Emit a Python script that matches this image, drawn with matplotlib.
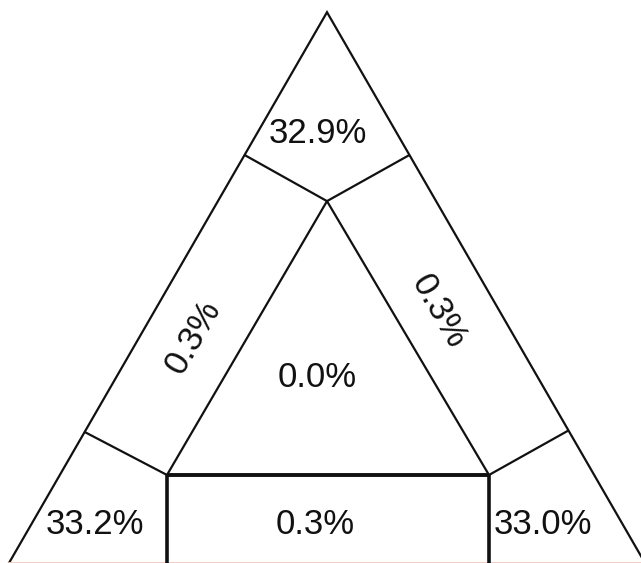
import numpy as np
import matplotlib
matplotlib.use("Agg")
import matplotlib.pyplot as plt

# Region shares (percent)
corner_labels = ["32.9%", "33.2%", "33.0%"]      # top, bottom-left, bottom-right
edge_labels = ["0.3%", "0.3%", "0.3%"]           # left, right, bottom
center_label = "0.0%"

# Region boundary points in unit-triangle coordinates (base 0..1)
outer_u = [0.0, 0.5, 1.0]
outer_v = [0.0, np.sqrt(3) / 2, 0.0]
junction = (0.5, 0.569)
top_left_edge = (0.3704, 0.6415)
top_right_edge = (0.6296, 0.6415)
inner_bl = (0.2484, 0.1384)
inner_br = (0.7547, 0.1384)
low_left_edge = (0.119, 0.206)
low_right_edge = (0.879, 0.208)
base_l = (0.2484, 0.0)
base_r = (0.7547, 0.0)

# Label anchors (layout)
lab_pos = {
    "top": (0.486, 0.676),
    "left": (0.289, 0.355),
    "right": (0.676, 0.395),
    "center": (0.484, 0.292),
    "bl": (0.135, 0.060),
    "bottom": (0.481, 0.060),
    "br": (0.840, 0.060),
}

fig = plt.figure(figsize=(6.41, 5.63), dpi=100)
ax = fig.add_axes([0, 0, 1, 1])
ax.set_xlim(-9 / 636, 632 / 636)
ax.set_ylim(0, 563 / 636)
ax.axis("off")

lw = 1.6
col = "#111111"
# outer triangle sides
ax.plot([outer_u[0], outer_u[1], outer_u[2]], [outer_v[0], outer_v[1], outer_v[2]],
        color=col, lw=lw, solid_joinstyle="miter")
ax.plot([0, 1], [0, 0], color="#f5c8bc", lw=2)

def seg(p, q, w=lw):
    ax.plot([p[0], q[0]], [p[1], q[1]], color=col, lw=w, solid_capstyle="butt")

seg(top_left_edge, junction)
seg(top_right_edge, junction)
seg(junction, inner_bl)
seg(junction, inner_br)
seg(low_left_edge, inner_bl)
seg(low_right_edge, inner_br)
seg(inner_bl, inner_br, 2.8)
seg(inner_bl, base_l, 2.6)
seg(inner_br, base_r, 2.6)

fam = ["Liberation Sans Narrow", "Liberation Sans", "DejaVu Sans"]
fs = 25
tk = dict(ha="center", va="center", fontsize=fs, family=fam, color="#111111")
ax.text(*lab_pos["top"], corner_labels[0], **tk)
ax.text(*lab_pos["bl"], corner_labels[1], **tk)
ax.text(*lab_pos["br"], corner_labels[2], **tk)
ax.text(*lab_pos["left"], edge_labels[0], rotation=60, rotation_mode="anchor", **tk)
ax.text(*lab_pos["right"], edge_labels[1], rotation=-60, rotation_mode="anchor", **tk)
ax.text(*lab_pos["bottom"], edge_labels[2], **tk)
ax.text(*lab_pos["center"], center_label, **tk)

fig.savefig("out.png", dpi=100, facecolor="white")
